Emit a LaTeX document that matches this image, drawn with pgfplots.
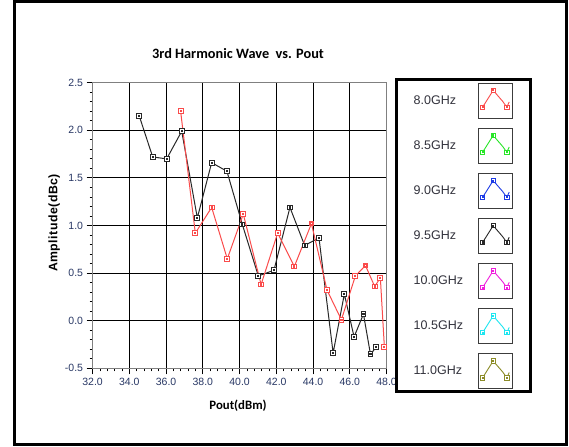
\documentclass[border=0pt]{standalone}
\usepackage{fontspec}
\setmainfont{Liberation Sans}
\newfontfamily\carlito{Carlito}
\usepackage{pgfplots}
\pgfplotsset{compat=1.18}
\definecolor{myred}{RGB}{250,75,75}
\definecolor{myblack}{RGB}{40,40,40}
\definecolor{mygreen}{RGB}{40,230,40}
\definecolor{myblue}{RGB}{30,60,230}
\definecolor{mymag}{RGB}{240,30,220}
\definecolor{mycyan}{RGB}{30,230,240}
\definecolor{myolive}{RGB}{140,140,40}
\definecolor{ticklab}{RGB}{40,55,100}
\definecolor{legtext}{RGB}{50,50,60}

\pgfdeclareplotmark{sqdot}{%
  \pgfpathrectangle{\pgfqpoint{-\pgfplotmarksize}{-\pgfplotmarksize}}{\pgfqpoint{2\pgfplotmarksize}{2\pgfplotmarksize}}%
  \pgfusepathqfillstroke
  \pgfpathrectangle{\pgfqpoint{-0.25\pgfplotmarksize}{-0.25\pgfplotmarksize}}{\pgfqpoint{0.5\pgfplotmarksize}{0.5\pgfplotmarksize}}%
  \pgfusepathqstroke
}

\begin{document}
\begin{tikzpicture}
\path[use as bounding box] (0,0) rectangle (569bp,447bp);
\draw[line width=3bp] (14bp,2bp) rectangle (566bp,445.5bp);
\begin{axis}[
  scale only axis, width=294bp, height=285.6bp,
  at={(92.6bp,78.7bp)}, anchor=south west,
  xmin=32, xmax=48, ymin=-0.5, ymax=2.5,
  xtick={32,34,...,48}, ytick={-0.5,0,0.5,1,1.5,2,2.5},
  minor x tick num=4, minor y tick num=4,
  tick align=outside, tick pos=left,
  major tick length=6bp, minor tick length=3bp,
  tick style={black, line width=0.8bp},
  grid=major, major grid style={black, line width=1.1bp},
  axis line style={gray, line width=0.8bp},
  /pgf/number format/fixed, /pgf/number format/fixed zerofill,
  /pgf/number format/precision=1, /pgf/number format/assume math mode=true,
  xticklabel style={font=\fontsize{10.5bp}{12bp}\selectfont, text=ticklab},
  yticklabel style={font=\fontsize{10.5bp}{12bp}\selectfont, text=ticklab},
  title={3rd Harmonic Wave\ \ vs. Pout},
  title style={at={(axis description cs:0.4946,1.0795)}, anchor=center, font=\carlito\bfseries\fontsize{14.3bp}{17bp}\selectfont},
  xlabel={Pout(dBm)},
  xlabel style={at={(axis description cs:0.4946,-0.132)}, anchor=center, font=\carlito\bfseries\fontsize{12.8bp}{15bp}\selectfont},
  ylabel={Amplitude(dBc)},
  ylabel style={at={(axis description cs:-0.131,0.509)}, anchor=center, font=\bfseries\fontsize{12.3bp}{14bp}\selectfont\addfontfeature{LetterSpace=4}},
  legend image code/.code={
    \draw[line width=1.1bp, draw={rgb,255:red,60;green,60;blue,60}, fill=white] (0bp,-17.5bp) rectangle (34bp,17.5bp);
    \draw[#1, mark=none, line width=0.9bp] plot coordinates {(4bp,-6.6bp)(14.6bp,10.2bp)(24bp,-0.7bp)(28.2bp,-6.6bp)(30.6bp,-1.4bp)};
    \draw[#1, only marks, line width=0.9bp, mark size=2.2bp] plot coordinates {(4bp,-6.6bp)(14.6bp,10.2bp)(28.2bp,-6.6bp)};
  },
  legend plot pos=right, legend cell align=left,
  legend style={at={(1.0276,1.0154)}, anchor=north west, draw=black, line width=3bp, fill=white,
    inner xsep=17.5bp, inner ysep=2.7bp, row sep=9bp, column sep=15bp,
    font=\fontsize{12.5bp}{14bp}\selectfont, nodes={inner sep=0pt, text=legtext}},
]
\addlegendimage{myred, mark=sqdot, mark options={fill=white}}
\addlegendimage{mygreen, mark=sqdot, mark options={fill=white}}
\addlegendimage{myblue, mark=sqdot, mark options={fill=white}}
\addlegendimage{myblack, mark=sqdot, mark options={fill=white}}
\addlegendimage{mymag, mark=sqdot, mark options={fill=white}}
\addlegendimage{mycyan, mark=sqdot, mark options={fill=white}}
\addlegendimage{myolive, mark=sqdot, mark options={fill=white}}

\addplot[myblack, line width=1bp, mark=sqdot, mark size=2.4bp, mark options={fill=white}, forget plot] coordinates {
(34.54,2.15) (35.27,1.72) (36.03,1.70) (36.85,1.99) (37.70,1.08) (38.48,1.66)
(39.31,1.57) (40.15,1.01) (41.02,0.47) (41.87,0.53) (42.74,1.19) (43.54,0.79)
(44.32,0.87) (45.09,-0.34) (45.70,0.28) (46.23,-0.17) (46.74,0.07) (47.12,-0.35)
(47.44,-0.28)};
\addplot[myred, line width=1bp, mark=sqdot, mark size=2.4bp, mark options={fill=white}, forget plot] coordinates {
(36.79,2.20) (37.59,0.92) (38.48,1.19) (39.33,0.65) (40.20,1.12) (41.17,0.38)
(42.07,0.92) (42.98,0.57) (43.91,1.02) (44.76,0.32) (45.54,0.01) (46.30,0.47)
(46.85,0.58) (47.35,0.36) (47.66,0.45) (47.88,-0.28)};
\legend{8.0GHz,8.5GHz,9.0GHz,9.5GHz,10.0GHz,10.5GHz,11.0GHz}
\end{axis}
\end{tikzpicture}
\end{document}
